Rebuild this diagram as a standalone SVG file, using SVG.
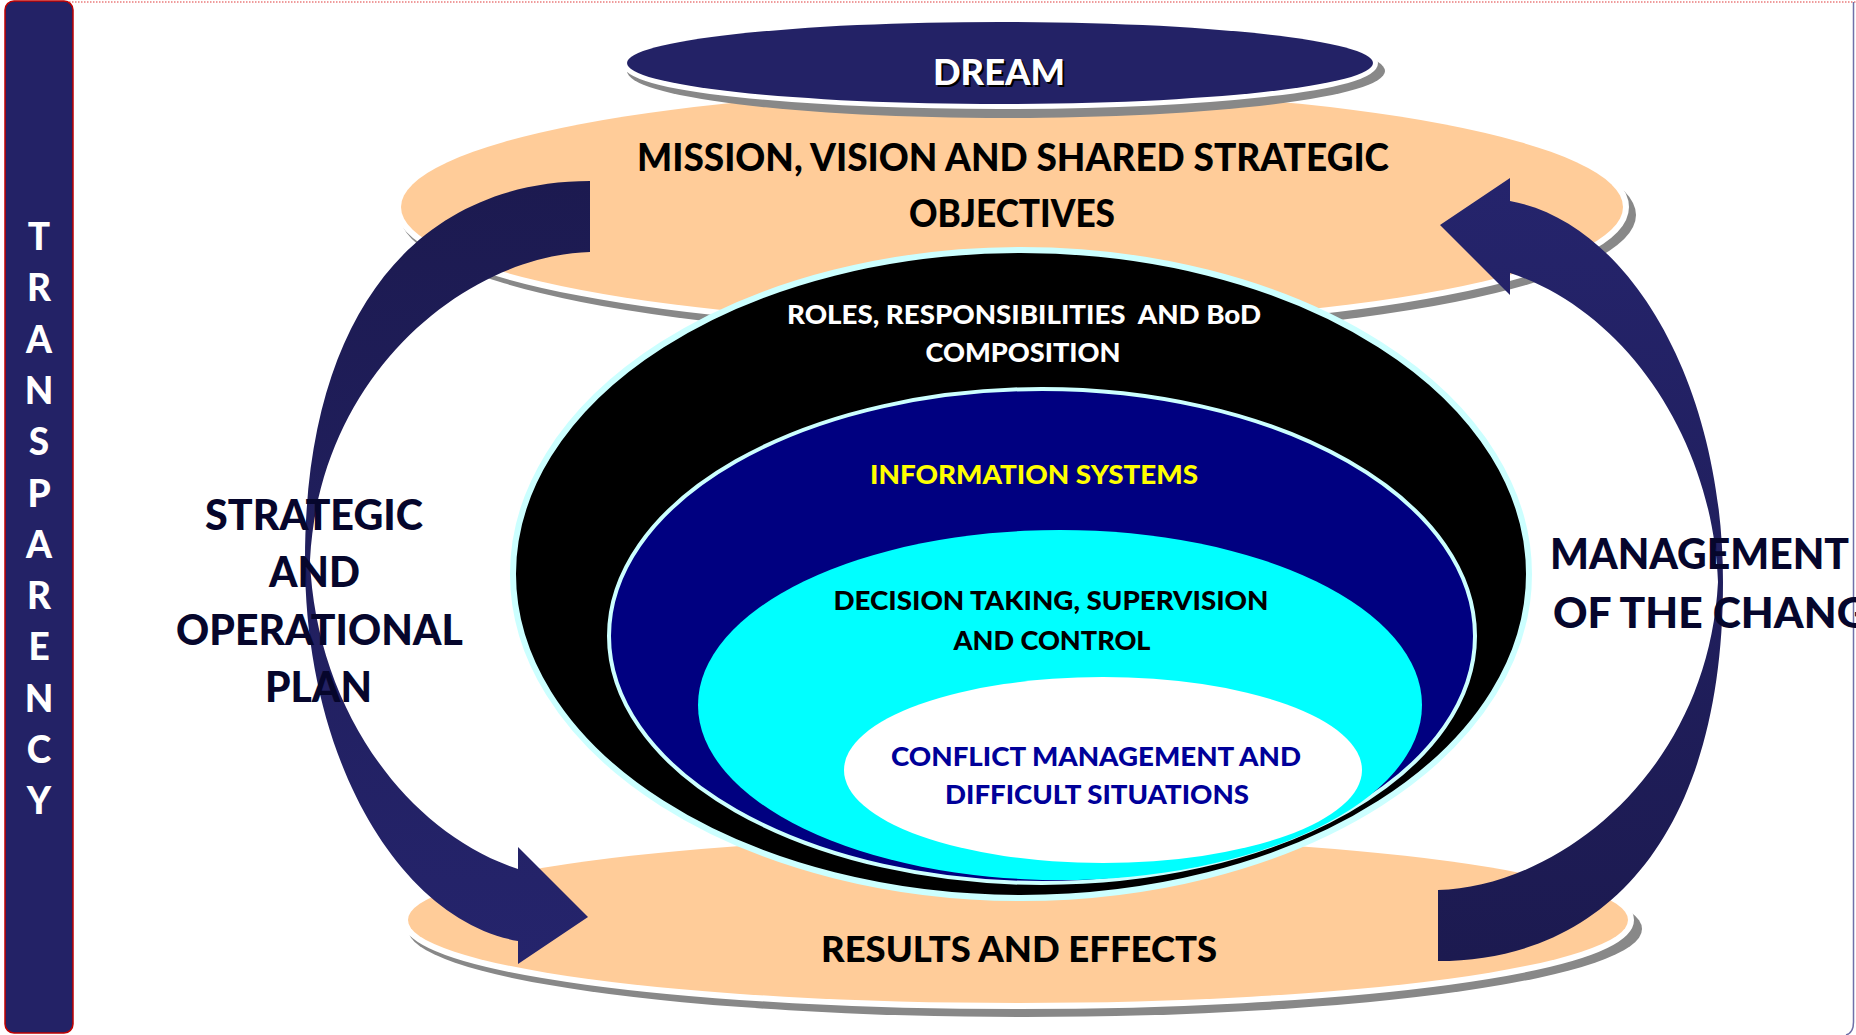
<svg xmlns="http://www.w3.org/2000/svg" xmlns:xlink="http://www.w3.org/1999/xlink" width="1856" height="1035" viewBox="0 0 1856 1035">
  <style>
    .t { font-family: Lato, "Open Sans", "Liberation Sans", sans-serif; font-weight: 900; }
    .mid { text-anchor: middle; }
    .peach { fill: #FFCC99; stroke: #FFFFFF; stroke-width: 12; paint-order: stroke; }
    .shadow { fill: #888888; }
    .side { fill: #06062C; font-size: 42px; }
    .inner { font-size: 27px; }
    .band { fill: url(#arrowFill); }
  </style>
  <defs>
    <linearGradient id="arrowFill" x1="0" y1="0" x2="0" y2="1">
      <stop offset="0" stop-color="#1C1A50"/>
      <stop offset="1" stop-color="#25246C"/>
    </linearGradient>
    <!-- curved band: tail at top right, bends out to the left, head points right at the bottom -->
    <path id="curvedArrow" d="M 590,181 C 420,181 305,310 305,560 C 305,760 400,920 518,941 L 518,964 L 588,917 L 518,847 L 518,869 C 400,830 315,700 310,560 C 320,370 470,255 590,252 Z"/>
  </defs>

  <rect width="1856" height="1035" fill="#FFFFFF"/>

  <!-- slide frame -->
  <line x1="60" y1="2" x2="1856" y2="2" stroke="#E03A3A" stroke-width="1.2" stroke-dasharray="1.5 1.5"/>
  <path d="M 1853.5,2 V 1022 Q 1853.5,1033 1846,1035" fill="none" stroke="#7070A8" stroke-width="1.5"/>

  <g id="transparency">
    <rect x="5" y="1" width="68" height="1032" rx="9" fill="#232266" stroke="#C00000" stroke-width="1.5"/>
    <g class="t mid" fill="#FFFFFF" font-size="37">
      <text x="39" y="250">T</text>
      <text x="39" y="301">R</text>
      <text x="39" y="353">A</text>
      <text x="39" y="404">N</text>
      <text x="39" y="455">S</text>
      <text x="39" y="507">P</text>
      <text x="39" y="558">A</text>
      <text x="39" y="609">R</text>
      <text x="39" y="660">E</text>
      <text x="39" y="712">N</text>
      <text x="39" y="763">C</text>
      <text x="39" y="814">Y</text>
    </g>
  </g>

  <g id="mission">
    <ellipse class="shadow" cx="1018" cy="215" rx="618" ry="123"/>
    <ellipse class="peach" cx="1012" cy="207" rx="611" ry="117"/>
    <text class="t mid" x="1013" y="171" font-size="38" fill="#000000" textLength="752" lengthAdjust="spacingAndGlyphs">MISSION, VISION AND SHARED STRATEGIC</text>
    <text class="t mid" x="1012" y="227" font-size="38" fill="#000000" textLength="206" lengthAdjust="spacingAndGlyphs">OBJECTIVES</text>
  </g>

  <g id="dream">
    <ellipse class="shadow" cx="1006" cy="71" rx="379" ry="47"/>
    <ellipse cx="1000" cy="63" rx="373" ry="41" fill="#232266" stroke="#FFFFFF" stroke-width="10" paint-order="stroke"/>
    <text class="t mid" x="1001" y="87" font-size="36" fill="#000000" textLength="132" lengthAdjust="spacingAndGlyphs">DREAM</text>
    <text class="t mid" x="999" y="85" font-size="36" fill="#FFFFFF" textLength="132" lengthAdjust="spacingAndGlyphs">DREAM</text>
  </g>

  <g id="results">
    <ellipse class="shadow" cx="1025" cy="929" rx="617" ry="88"/>
    <ellipse class="peach" cx="1018" cy="920" rx="610" ry="83"/>
    <text class="t mid" x="1019" y="962" font-size="36" fill="#000000" textLength="396" lengthAdjust="spacingAndGlyphs">RESULTS AND EFFECTS</text>
  </g>

  <g id="roles">
    <ellipse cx="1021" cy="574" rx="508" ry="324" fill="#000000" stroke="#CCFFFF" stroke-width="6"/>
    <text class="t mid inner" x="1024" y="324" fill="#FFFFFF" xml:space="preserve" textLength="474" lengthAdjust="spacingAndGlyphs">ROLES, RESPONSIBILITIES  AND BoD</text>
    <text class="t mid inner" x="1023" y="362" fill="#FFFFFF" textLength="195" lengthAdjust="spacingAndGlyphs">COMPOSITION</text>
  </g>

  <g id="information">
    <ellipse cx="1042" cy="636" rx="433" ry="247" fill="#000080" stroke="#CCFFFF" stroke-width="4"/>
    <text class="t mid inner" x="1034" y="484" fill="#FFFF00" textLength="328" lengthAdjust="spacingAndGlyphs">INFORMATION SYSTEMS</text>
  </g>

  <g id="decision">
    <ellipse cx="1060" cy="705" rx="362" ry="175" fill="#00FFFF"/>
    <text class="t mid inner" x="1051" y="610" fill="#000000" textLength="435" lengthAdjust="spacingAndGlyphs">DECISION TAKING, SUPERVISION</text>
    <text class="t mid inner" x="1052" y="650" fill="#000000" textLength="197" lengthAdjust="spacingAndGlyphs">AND CONTROL</text>
  </g>

  <g id="conflict">
    <ellipse cx="1103" cy="770" rx="259" ry="93" fill="#FFFFFF"/>
    <text class="t mid inner" x="1096" y="766" fill="#000099" textLength="410" lengthAdjust="spacingAndGlyphs">CONFLICT MANAGEMENT AND</text>
    <text class="t mid inner" x="1097" y="804" fill="#000099" textLength="304" lengthAdjust="spacingAndGlyphs">DIFFICULT SITUATIONS</text>
  </g>

  <g id="connectors">
    <use xlink:href="#curvedArrow" class="band"/>
    <use xlink:href="#curvedArrow" class="band" transform="rotate(180 1014 571)"/>
  </g>

  <g id="strategic-plan" class="t side">
    <text class="mid" x="314" y="530" textLength="218" lengthAdjust="spacingAndGlyphs">STRATEGIC</text>
    <text class="mid" x="314.5" y="587" textLength="91" lengthAdjust="spacingAndGlyphs">AND</text>
    <text class="mid" x="319.5" y="645" textLength="287" lengthAdjust="spacingAndGlyphs">OPERATIONAL</text>
    <text class="mid" x="318.5" y="702" textLength="107" lengthAdjust="spacingAndGlyphs">PLAN</text>
  </g>

  <g id="change-management" class="t side">
    <text x="1550" y="569" textLength="299" lengthAdjust="spacingAndGlyphs">MANAGEMENT</text>
    <text x="1553" y="628" textLength="339" lengthAdjust="spacingAndGlyphs">OF THE CHANGE</text>
  </g>
</svg>
